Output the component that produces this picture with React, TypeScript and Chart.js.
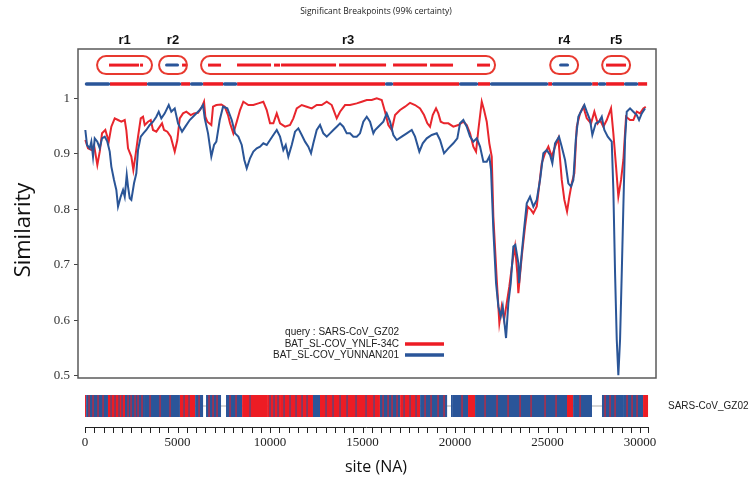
import React, { useEffect, useRef } from 'react';
import { Chart, registerables } from 'chart.js';
Chart.register(...registerables);

// ---------- data ----------
const ynlfLabel = 'BAT_SL-COV_YNLF-34C';
const yunnanLabel = 'BAT_SL-COV_YUNNAN201';
const queryLabel = 'query : SARS-CoV_GZ02';
const sequenceName = 'SARS-CoV_GZ02';
const chartTitle = 'Significant Breakpoints (99% certainty)';
const xTitle = 'site (NA)';
const yTitle = 'Similarity';

const ynlfSite = [16,162,341,486,665,795,919,1097,1281,1422,1605,1784,1962,2146,2232,2324,2503,2611,2719,2865,3011,3135,3227,3405,3551,3675,3854,4038,4162,4270,4448,4632,4848,4989,5119,5297,5475,5713,5891,6108,6324,6432,6502,6610,6826,6918,7097,7367,7551,7729,7837,8016,8200,8378,8556,8827,9097,9367,9637,9821,9999,10178,10362,10540,10810,11080,11259,11442,11713,11983,12253,12523,12794,13064,13334,13604,13783,14053,14323,14685,14956,15226,15496,15766,16036,16215,16393,16577,16756,17026,17296,17566,17837,18107,18323,18501,18647,18793,18971,19096,19225,19404,19636,19906,20176,20447,20631,20809,20988,21133,21258,21442,21566,21712,21852,21982,22069,22253,22393,22522,22647,22793,22933,23117,23241,23365,23420,23604,23782,23928,24106,24231,24414,24539,24685,24863,25042,25226,25404,25582,25766,25907,26052,26177,26306,26447,26577,26755,26933,27117,27349,27528,27711,27836,28014,28198,28430,28555,28701,28825,28971,29096,29241,29457,29636,29820,29998,30176,30306];
const ynlfSim = [0.925,0.910,0.907,0.916,0.880,0.904,0.937,0.943,0.922,0.949,0.964,0.961,0.958,0.961,0.943,0.910,0.895,0.871,0.895,0.931,0.964,0.967,0.952,0.958,0.961,0.943,0.940,0.949,0.955,0.943,0.940,0.931,0.904,0.925,0.964,0.973,0.976,0.970,0.973,0.974,0.985,0.994,0.967,0.958,0.952,0.985,0.988,0.989,0.985,0.970,0.955,0.937,0.958,0.979,0.994,0.988,0.988,0.991,0.994,0.979,0.955,0.955,0.973,0.955,0.949,0.952,0.964,0.982,0.988,0.985,0.982,0.988,0.988,0.994,0.988,0.964,0.976,0.988,0.988,0.991,0.994,0.997,0.997,1.000,0.997,0.976,0.952,0.943,0.970,0.979,0.985,0.992,0.988,0.982,0.970,0.955,0.949,0.970,0.982,0.973,0.958,0.955,0.955,0.949,0.952,0.958,0.952,0.937,0.913,0.904,0.943,0.994,0.979,0.958,0.919,0.895,0.787,0.673,0.595,0.625,0.601,0.631,0.661,0.709,0.733,0.685,0.649,0.715,0.769,0.805,0.799,0.793,0.805,0.841,0.883,0.901,0.913,0.895,0.913,0.928,0.853,0.817,0.796,0.823,0.847,0.865,0.949,0.973,0.985,0.964,0.955,0.976,0.955,0.961,0.949,0.961,0.982,0.937,0.877,0.823,0.853,0.889,0.967,0.961,0.961,0.976,0.973,0.982,0.985];

const yunnanSite = [16,108,254,341,432,524,665,795,919,1065,1205,1335,1422,1567,1692,1784,1930,2054,2146,2254,2324,2416,2503,2648,2773,2865,3011,3151,3313,3497,3675,3854,3983,4124,4308,4524,4664,4848,5027,5243,5421,5659,5929,6200,6378,6470,6648,6826,6972,7097,7281,7459,7691,7929,8108,8286,8470,8610,8740,8918,9097,9281,9459,9637,9821,9999,10178,10362,10540,10718,10848,10988,11172,11350,11529,11713,11891,12069,12215,12339,12523,12702,12880,13064,13242,13421,13604,13783,13961,14145,14323,14502,14685,14864,15042,15226,15404,15583,15675,15853,16123,16307,16485,16664,16848,17118,17388,17658,17837,18069,18253,18469,18739,19009,19188,19404,19636,19906,20122,20268,20447,20631,20809,20988,21172,21350,21528,21712,21852,21944,22069,22215,22339,22469,22577,22755,22879,23009,23150,23258,23420,23458,23604,23744,23874,24052,24231,24414,24593,24771,24955,25133,25258,25404,25620,25766,25944,26122,26268,26393,26523,26663,26847,26988,27117,27295,27420,27603,27782,27928,28068,28252,28468,28555,28647,28739,28825,28917,29009,29096,29187,29279,29457,29636,29820,29944,30090,30268];
const yunnanSim = [0.943,0.916,0.910,0.922,0.895,0.928,0.922,0.910,0.928,0.931,0.922,0.904,0.877,0.853,0.835,0.805,0.823,0.835,0.823,0.862,0.841,0.820,0.817,0.847,0.865,0.907,0.931,0.937,0.943,0.952,0.958,0.967,0.976,0.964,0.973,0.988,0.976,0.982,0.955,0.940,0.949,0.961,0.970,0.979,0.988,0.964,0.937,0.895,0.916,0.922,0.961,0.985,0.982,0.961,0.937,0.931,0.916,0.889,0.874,0.892,0.904,0.910,0.913,0.919,0.916,0.925,0.934,0.943,0.931,0.907,0.916,0.895,0.916,0.940,0.946,0.934,0.922,0.913,0.901,0.919,0.943,0.952,0.937,0.931,0.937,0.943,0.949,0.955,0.949,0.937,0.937,0.931,0.931,0.937,0.958,0.967,0.958,0.937,0.943,0.949,0.958,0.973,0.958,0.934,0.925,0.931,0.937,0.943,0.931,0.904,0.919,0.928,0.934,0.937,0.925,0.901,0.910,0.919,0.928,0.955,0.961,0.949,0.931,0.922,0.928,0.913,0.886,0.886,0.895,0.871,0.763,0.667,0.625,0.607,0.625,0.568,0.631,0.667,0.733,0.736,0.703,0.667,0.721,0.769,0.811,0.823,0.805,0.817,0.853,0.901,0.907,0.898,0.883,0.919,0.931,0.913,0.889,0.847,0.841,0.853,0.925,0.967,0.979,0.988,0.976,0.961,0.934,0.955,0.958,0.967,0.943,0.931,0.922,0.835,0.685,0.565,0.501,0.565,0.685,0.805,0.925,0.976,0.982,0.976,0.970,0.961,0.973,0.982];

const yTickValues = [0.5, 0.6, 0.7, 0.8, 0.9, 1];
const rulerLabels = [0, 5000, 10000, 15000, 20000, 25000, 30000];
const rulerStep = 500;
const alignmentLength = 30430;

// breakpoint regions: name, start, end
const regionNames = ['r1', 'r2', 'r3', 'r4', 'r5'];
const regionStart = [650, 4000, 6270, 25140, 27950];
const regionEnd = [3620, 5510, 22160, 26650, 29460];
// marks inside the regions: start, end, parent (R = YNLF-34C, B = YUNNAN201)
const regionMarks: [number, number, string][] = [
  [1297, 2919, 'R'], [2973, 3135, 'R'],
  [4324, 5081, 'B'], [5243, 5459, 'R'],
  [6648, 7351, 'R'], [8216, 10053, 'R'], [10215, 10540, 'R'], [10594, 13567, 'R'],
  [13729, 16270, 'R'], [16648, 18485, 'R'], [18647, 19890, 'R'], [21188, 21890, 'R'],
  [25620, 26161, 'B'],
  [28160, 29241, 'R'],
];
// closest-parent track
const trackSegments: [number, number, string][] = [
  [0, 1350, 'B'], [1350, 3350, 'R'], [3350, 5190, 'B'], [5190, 5680, 'R'], [5680, 6380, 'B'],
  [6380, 7460, 'R'], [7460, 8220, 'B'], [8220, 16220, 'R'], [16220, 16650, 'B'], [16650, 20220, 'R'],
  [20220, 21240, 'B'], [21240, 21890, 'R'], [21890, 25030, 'B'], [25030, 25240, 'R'], [25240, 27410, 'B'],
  [27410, 27730, 'R'], [27730, 28160, 'B'], [28160, 29140, 'R'], [29140, 29890, 'B'], [29890, 30380, 'R'],
];
// informative-site barcode blocks
const barcodeBlocks: [number, number, string][] = [
  [0, 60, 'R'], [60, 1240, 'B'], [1240, 2160, 'R'], [2160, 3240, 'B'], [3240, 5130, 'B'],
  [5130, 5950, 'R'], [5950, 6380, 'B'], [6540, 7350, 'B'], [7620, 8490, 'B'], [8490, 9840, 'R'],
  [9840, 10540, 'R'], [10540, 12320, 'R'], [12320, 12700, 'B'], [12700, 15940, 'R'], [15940, 17030, 'B'],
  [17030, 18110, 'R'], [18110, 19570, 'B'], [19780, 19840, 'B'], [19840, 20700, 'B'], [20700, 21080, 'R'],
  [21080, 26050, 'B'], [26050, 26380, 'R'], [26380, 27400, 'B'], [27940, 29080, 'B'], [29080, 30160, 'B'],
  [30160, 30430, 'R'],
];
const barcodeRedStripes = [216, 432, 703, 973, 2324, 2486, 2703, 2865, 3081, 3513, 4054, 4594, 6162, 6702, 6918, 7135, 7837, 8162, 16107, 16378, 16594, 16864, 18377, 18701, 19080, 19404, 20377, 21620, 22269, 22864, 23512, 24107, 24863, 25458, 26755, 28106, 28376, 28647, 29296, 29566, 29836];
const barcodeBlueStripes = [1405, 1622, 1838, 2000, 5351, 5621, 8918, 9999, 10215, 10432, 10756, 11080, 11405, 11729, 11999, 13026, 13404, 13783, 14161, 14648, 15188, 15620, 17242, 17566, 17891];

// ---------- styles ----------
const RED = '#e8262d';
const BLUE = '#2a5597';
const BAR_RED = '#ed1c24';
const BAR_BLUE = '#2a5599';
const colorOf = (c: string) => (c === 'R' ? BAR_RED : BAR_BLUE);

const overlay = {
  id: 'overlay',
  afterDraw(chart: any) {
    const { ctx, chartArea: ca, scales } = chart;
    const x = scales.x;
    const y = scales.y;
    const px = (v: number) => x.getPixelForValue(v);
    ctx.save();

    // frame
    ctx.strokeStyle = '#5a5a5a';
    ctx.lineWidth = 1.5;
    ctx.strokeRect(ca.left, ca.top, ca.right - ca.left, ca.bottom - ca.top);

    // title
    ctx.fillStyle = '#222';
    ctx.textAlign = 'center';
    ctx.textBaseline = 'middle';
    ctx.font = '8.5px "Open Sans"';
    ctx.fillText(chartTitle, 376, 12);

    // track of closest parent
    const trackY = y.getPixelForValue(1.026);
    ctx.lineWidth = 3.5;
    trackSegments.filter(s => s[2] === 'R').forEach(s => {
      ctx.strokeStyle = BAR_RED; ctx.lineCap = 'butt';
      ctx.beginPath(); ctx.moveTo(px(s[0]), trackY); ctx.lineTo(px(s[1]), trackY); ctx.stroke();
    });
    trackSegments.filter(s => s[2] === 'B').forEach(s => {
      ctx.strokeStyle = BAR_BLUE; ctx.lineCap = 'round';
      ctx.beginPath(); ctx.moveTo(px(s[0]) + 1.5, trackY); ctx.lineTo(px(s[1]) - 1.5, trackY); ctx.stroke();
    });

    // breakpoint regions
    const ovalY = y.getPixelForValue(1.06);
    const h = 18;
    regionNames.forEach((name, i) => {
      const a = px(regionStart[i]);
      const b = px(regionEnd[i]);
      ctx.strokeStyle = '#e8392f';
      ctx.lineWidth = 2;
      ctx.beginPath();
      ctx.roundRect(a, ovalY - h / 2, b - a, h, h / 2);
      ctx.stroke();
      ctx.fillStyle = '#111';
      ctx.font = 'bold 13px "Liberation Sans"';
      ctx.textAlign = 'center';
      ctx.fillText(name, (a + b) / 2, ca.top - 9);
    });
    regionMarks.forEach(m => {
      ctx.strokeStyle = colorOf(m[2]);
      ctx.lineWidth = 3;
      ctx.lineCap = m[2] === 'B' ? 'round' : 'butt';
      ctx.beginPath();
      ctx.moveTo(px(m[0]) + (m[2] === 'B' ? 1.5 : 0), ovalY);
      ctx.lineTo(px(m[1]) - (m[2] === 'B' ? 1.5 : 0), ovalY);
      ctx.stroke();
    });
    ctx.lineCap = 'butt';

    // barcode
    const bTop = ca.bottom + 17;
    const bH = 22;
    ctx.fillStyle = '#d6d6d6';
    ctx.fillRect(px(0), bTop + bH / 2 - 1, px(alignmentLength) - px(0), 2);
    barcodeBlocks.forEach(s => {
      ctx.fillStyle = colorOf(s[2]);
      ctx.fillRect(px(s[0]), bTop, px(s[1]) - px(s[0]), bH);
    });
    const half = 28;
    barcodeRedStripes.forEach(c => {
      ctx.fillStyle = BAR_RED;
      ctx.fillRect(px(c - half), bTop, px(c + half) - px(c - half), bH);
    });
    barcodeBlueStripes.forEach(c => {
      ctx.fillStyle = BAR_BLUE;
      ctx.fillRect(px(c - half), bTop, px(c + half) - px(c - half), bH);
    });
    ctx.fillStyle = '#222';
    ctx.font = '10px "Liberation Sans"';
    ctx.textAlign = 'left';
    ctx.fillText(sequenceName, 668, bTop + bH / 2);

    // ruler
    const rY = ca.bottom + 49;
    ctx.strokeStyle = '#222';
    ctx.lineWidth = 1;
    ctx.beginPath();
    ctx.moveTo(px(0), rY + 0.5);
    ctx.lineTo(px(alignmentLength), rY + 0.5);
    for (let s = 0; s <= alignmentLength; s += rulerStep) {
      const xx = Math.round(px(s)) + 0.5;
      ctx.moveTo(xx, rY);
      ctx.lineTo(xx, rY + 6);
    }
    const endX = Math.round(px(alignmentLength)) + 0.5;
    ctx.moveTo(endX, rY); ctx.lineTo(endX, rY + 6);
    ctx.stroke();
    ctx.font = '13px "Liberation Serif"';
    ctx.textAlign = 'center';
    rulerLabels.forEach(v => ctx.fillText(String(v), px(v), rY + 16));
    ctx.font = '16px "Open Sans"';
    ctx.fillStyle = '#111';
    ctx.fillText(xTitle, 376, 467);

    // y title
    ctx.save();
    ctx.translate(24, 230);
    ctx.rotate(-Math.PI / 2);
    ctx.font = '22px "Open Sans"';
    ctx.fillStyle = '#111';
    ctx.textAlign = 'center';
    ctx.fillText(yTitle, 0, 0);
    ctx.restore();

    // legend
    ctx.font = '10px "Liberation Sans"';
    ctx.fillStyle = '#222';
    ctx.textAlign = 'right';
    ctx.fillText(queryLabel, 399, 332);
    ctx.fillText(ynlfLabel, 399, 344);
    ctx.fillText(yunnanLabel, 399, 355);
    ctx.lineWidth = 3.5;
    ctx.strokeStyle = BAR_RED;
    ctx.beginPath(); ctx.moveTo(405, 344); ctx.lineTo(444, 344); ctx.stroke();
    ctx.strokeStyle = BAR_BLUE;
    ctx.beginPath(); ctx.moveTo(405, 355); ctx.lineTo(444, 355); ctx.stroke();

    ctx.restore();
  },
};

export default function App() {
  const ref = useRef<HTMLCanvasElement>(null);
  useEffect(() => {
    document.body.style.margin = '0';
    const canvas = ref.current!;
    const ynlf = ynlfSite.map((s, i) => ({ x: s, y: ynlfSim[i] }));
    const yunnan = yunnanSite.map((s, i) => ({ x: s, y: yunnanSim[i] }));
    const chart = new Chart(canvas, {
      type: 'line',
      data: {
        datasets: [
          { label: yunnanLabel, data: yunnan, borderColor: BLUE, borderWidth: 2, pointRadius: 0, tension: 0, order: 0 },
          { label: ynlfLabel, data: ynlf, borderColor: RED, borderWidth: 2, pointRadius: 0, tension: 0, order: 1 },
        ],
      },
      options: {
        animation: false,
        responsive: false,
        maintainAspectRatio: false,
        layout: { padding: { left: 0, right: 94, top: 49, bottom: 105 } },
        plugins: { legend: { display: false }, tooltip: { enabled: false } },
        scales: {
          x: { type: 'linear', min: -380, max: 30860, display: false },
          y: {
            min: 0.496,
            max: 1.089,
            afterFit: (s: any) => { s.width = 78; },
            afterBuildTicks: (s: any) => { s.ticks = yTickValues.map(v => ({ value: v })); },
            ticks: {
              callback: (v: any) => String(Math.round(v * 10) / 10),
              font: { family: '"Liberation Serif"', size: 13 },
              color: '#333',
              padding: 4,
            },
            grid: { drawOnChartArea: false, tickLength: 4, color: '#444' },
            border: { display: false },
          },
        },
      },
      plugins: [overlay],
    });
    return () => chart.destroy();
  }, []);
  return <canvas ref={ref} width={750} height={483} style={{ display: 'block' }} />;
}
